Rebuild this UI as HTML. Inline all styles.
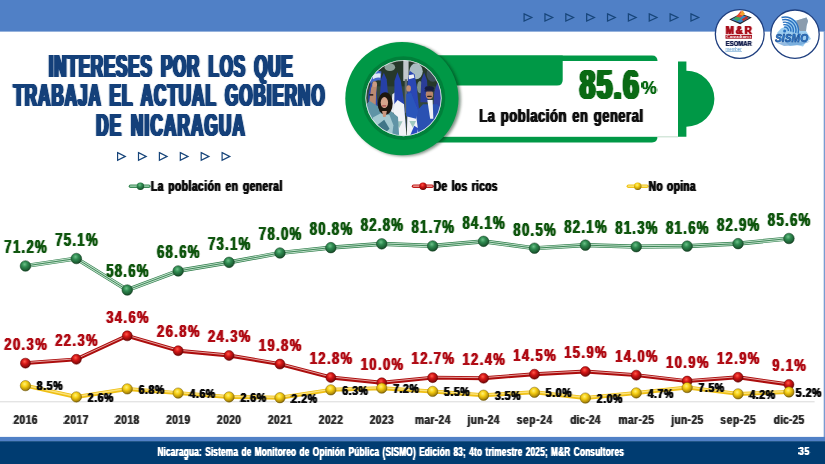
<!DOCTYPE html>
<html lang="es"><head><meta charset="utf-8"><title>Intereses por los que trabaja el actual gobierno de Nicaragua</title>
<style>
html,body{margin:0;padding:0;background:#fff;}
body{width:825px;height:464px;overflow:hidden;font-family:"Liberation Sans",sans-serif;}
svg{display:block;}
text{font-family:"Liberation Sans",sans-serif;font-weight:bold;}
</style></head><body>
<svg width="825" height="464" viewBox="0 0 825 464">
<defs>
<radialGradient id="gG" cx="0.42" cy="0.34" r="0.66"><stop offset="0" stop-color="#6cc088"/><stop offset="0.4" stop-color="#2f8a50"/><stop offset="0.85" stop-color="#1c5c32"/><stop offset="1" stop-color="#12401f"/></radialGradient>
<radialGradient id="gR" cx="0.42" cy="0.34" r="0.66"><stop offset="0" stop-color="#ff5a4a"/><stop offset="0.4" stop-color="#d41616"/><stop offset="0.85" stop-color="#8a0a0a"/><stop offset="1" stop-color="#5e0404"/></radialGradient>
<radialGradient id="gY" cx="0.42" cy="0.34" r="0.66"><stop offset="0" stop-color="#fff27a"/><stop offset="0.4" stop-color="#f6ce12"/><stop offset="0.85" stop-color="#b08a08"/><stop offset="1" stop-color="#6e5604"/></radialGradient>
<linearGradient id="hdrEdge" x1="0" y1="0" x2="0" y2="1"><stop offset="0" stop-color="#5080c6"/><stop offset="1" stop-color="#4a74b4"/></linearGradient>
<clipPath id="photoClip"><circle cx="403.5" cy="98.1" r="37.5"/></clipPath>
<radialGradient id="ringShade" cx="0.5" cy="0.5" r="0.5"><stop offset="0.86" stop-color="#007a38"/><stop offset="1" stop-color="#008a40"/></radialGradient>
<filter id="blur1" x="-20%" y="-20%" width="140%" height="140%"><feGaussianBlur stdDeviation="1.6"/></filter>
<filter id="blurP" x="-5%" y="-5%" width="110%" height="110%"><feGaussianBlur stdDeviation="3.2"/></filter>
<filter id="blur05" x="-20%" y="-20%" width="140%" height="140%"><feGaussianBlur stdDeviation="0.6"/></filter>
<filter id="f0" x="-5%" y="-10%" width="110%" height="120%" color-interpolation-filters="sRGB"><feConvolveMatrix in="SourceAlpha" order="3 1" kernelMatrix="0.3 1 0.3" divisor="1" result="a"/><feFlood flood-color="#ffffff"/><feComposite in2="a" operator="in"/></filter>
<filter id="f1" x="-5%" y="-10%" width="110%" height="120%" color-interpolation-filters="sRGB"><feConvolveMatrix in="SourceAlpha" order="5 1" kernelMatrix="0.20 1 1 1 0.20" divisor="1" result="a"/><feFlood flood-color="#14407a"/><feComposite in2="a" operator="in"/></filter>
<filter id="f2" x="-5%" y="-10%" width="110%" height="120%" color-interpolation-filters="sRGB"><feConvolveMatrix in="SourceAlpha" order="5 1" kernelMatrix="0.50 1 1 1 0.50" divisor="1" result="a"/><feFlood flood-color="#0a6a14"/><feComposite in2="a" operator="in"/></filter>
<filter id="f3" x="-5%" y="-10%" width="110%" height="120%" color-interpolation-filters="sRGB"><feConvolveMatrix in="SourceAlpha" order="3 1" kernelMatrix="0.2 1 0.2" divisor="1" result="a"/><feFlood flood-color="#0a6a14"/><feComposite in2="a" operator="in"/></filter>
<filter id="f4" x="-5%" y="-10%" width="110%" height="120%" color-interpolation-filters="sRGB"><feConvolveMatrix in="SourceAlpha" order="3 1" kernelMatrix="0.5 1 0.5" divisor="1" result="a"/><feFlood flood-color="#111111"/><feComposite in2="a" operator="in"/></filter>
<filter id="f5" x="-5%" y="-10%" width="110%" height="120%" color-interpolation-filters="sRGB"><feConvolveMatrix in="SourceAlpha" order="3 1" kernelMatrix="0.45 1 0.45" divisor="1" result="a"/><feFlood flood-color="#a90f1c"/><feComposite in2="a" operator="in"/></filter>
<filter id="f6" x="-5%" y="-10%" width="110%" height="120%" color-interpolation-filters="sRGB"><feConvolveMatrix in="SourceAlpha" order="3 1" kernelMatrix="0.3 1 0.3" divisor="1" result="a"/><feFlood flood-color="#1a2452"/><feComposite in2="a" operator="in"/></filter>
<filter id="f7" x="-5%" y="-10%" width="110%" height="120%" color-interpolation-filters="sRGB"><feConvolveMatrix in="SourceAlpha" order="3 1" kernelMatrix="0.45 1 0.45" divisor="1" result="a"/><feFlood flood-color="#111111"/><feComposite in2="a" operator="in"/></filter>
<filter id="f8" x="-5%" y="-10%" width="110%" height="120%" color-interpolation-filters="sRGB"><feConvolveMatrix in="SourceAlpha" order="3 1" kernelMatrix="0.3 1 0.3" divisor="1" result="a"/><feFlood flood-color="#333333"/><feComposite in2="a" operator="in"/></filter>
<filter id="f9" x="-5%" y="-10%" width="110%" height="120%" color-interpolation-filters="sRGB"><feConvolveMatrix in="SourceAlpha" order="3 1" kernelMatrix="0.38 1 0.38" divisor="1" result="a"/><feFlood flood-color="#10560f"/><feComposite in2="a" operator="in"/></filter>
<filter id="f10" x="-5%" y="-10%" width="110%" height="120%" color-interpolation-filters="sRGB"><feConvolveMatrix in="SourceAlpha" order="3 1" kernelMatrix="0.38 1 0.38" divisor="1" result="a"/><feFlood flood-color="#b00c15"/><feComposite in2="a" operator="in"/></filter>
<filter id="f11" x="-5%" y="-10%" width="110%" height="120%" color-interpolation-filters="sRGB"><feConvolveMatrix in="SourceAlpha" order="3 1" kernelMatrix="0.4 1 0.4" divisor="1" result="a"/><feFlood flood-color="#0c0c0c"/><feComposite in2="a" operator="in"/></filter>
</defs>

<rect x="0" y="0" width="825" height="31.6" fill="#5080c6"/>
<rect x="823.7" y="31" width="1.3" height="407" fill="#7a9bd0"/>
<path d="M524.10 13.9 L531.80 17.5 L524.10 21.1 Z" fill="none" stroke="#17457a" stroke-width="1.25" stroke-linejoin="miter"/>
<path d="M544.96 13.9 L552.66 17.5 L544.96 21.1 Z" fill="none" stroke="#17457a" stroke-width="1.25" stroke-linejoin="miter"/>
<path d="M565.82 13.9 L573.52 17.5 L565.82 21.1 Z" fill="none" stroke="#17457a" stroke-width="1.25" stroke-linejoin="miter"/>
<path d="M586.68 13.9 L594.38 17.5 L586.68 21.1 Z" fill="none" stroke="#17457a" stroke-width="1.25" stroke-linejoin="miter"/>
<path d="M607.54 13.9 L615.24 17.5 L607.54 21.1 Z" fill="none" stroke="#17457a" stroke-width="1.25" stroke-linejoin="miter"/>
<path d="M628.40 13.9 L636.10 17.5 L628.40 21.1 Z" fill="none" stroke="#17457a" stroke-width="1.25" stroke-linejoin="miter"/>
<path d="M649.26 13.9 L656.96 17.5 L649.26 21.1 Z" fill="none" stroke="#17457a" stroke-width="1.25" stroke-linejoin="miter"/>
<path d="M670.12 13.9 L677.82 17.5 L670.12 21.1 Z" fill="none" stroke="#17457a" stroke-width="1.25" stroke-linejoin="miter"/>
<path d="M690.98 13.9 L698.68 17.5 L690.98 21.1 Z" fill="none" stroke="#17457a" stroke-width="1.25" stroke-linejoin="miter"/>
<rect x="0" y="436.9" width="825" height="4.6" fill="#5080c6"/>
<rect x="0" y="441.2" width="825" height="22.8" fill="#003c71"/>
<g filter="url(#f0)"><text transform="translate(157.40 455.80) scale(0.69 1)" font-size="12.0" fill="#ffffff" letter-spacing="0.257" word-spacing="1.159">Nicaragua: Sistema de Monitoreo de Opinión Pública (SISMO) Edición 83; 4to trimestre 2025; M&amp;R Consultores</text></g>
<g filter="url(#f0)"><text transform="translate(799.10 455.30) scale(0.78 1)" font-size="11.2" fill="#ffffff" letter-spacing="0.619">35</text></g>
<g filter="url(#f1)"><text transform="translate(48.80 76.70) scale(0.53 1)" font-size="32.1" fill="#14407a" letter-spacing="1.565" word-spacing="5.094">INTERESES POR LOS QUE</text></g>
<g filter="url(#f1)"><text transform="translate(13.40 106.30) scale(0.53 1)" font-size="32.1" fill="#14407a" letter-spacing="1.918" word-spacing="5.094">TRABAJA EL ACTUAL GOBIERNO</text></g>
<g filter="url(#f1)"><text transform="translate(96.20 135.90) scale(0.53 1)" font-size="32.1" fill="#14407a" letter-spacing="2.329" word-spacing="5.094">DE NICARAGUA</text></g>
<path d="M117.60 152.6 L125.30 156.4 L117.60 160.2 Z" fill="#fff" stroke="#17457a" stroke-width="1.2"/>
<path d="M138.50 152.6 L146.20 156.4 L138.50 160.2 Z" fill="#fff" stroke="#17457a" stroke-width="1.2"/>
<path d="M159.40 152.6 L167.10 156.4 L159.40 160.2 Z" fill="#fff" stroke="#17457a" stroke-width="1.2"/>
<path d="M180.30 152.6 L188.00 156.4 L180.30 160.2 Z" fill="#fff" stroke="#17457a" stroke-width="1.2"/>
<path d="M201.20 152.6 L208.90 156.4 L201.20 160.2 Z" fill="#fff" stroke="#17457a" stroke-width="1.2"/>
<path d="M222.10 152.6 L229.80 156.4 L222.10 160.2 Z" fill="#fff" stroke="#17457a" stroke-width="1.2"/>
<path d="M400 55.4 H652 Q657.5 55.4 657.5 61 V136.8 Q657.5 142.4 652 142.4 H400 Z" fill="#009846"/>
<rect x="440" y="61" width="238" height="75.8" fill="#fff"/>
<rect x="657.5" y="136.4" width="20.5" height="0.9" fill="#b9d8c4"/>
<path d="M430 55.4 H562.7 V80 Q562.7 85.5 557 85.5 H430 Z" fill="#009846"/>
<path d="M678 61.5 H686.4 V70.7 A28 28 0 0 1 686.4 126.7 V136.8 H678 Z" fill="#009846"/>
<circle cx="404.2" cy="99.6" r="56.6" fill="#00250f" opacity="0.5" filter="url(#blur1)"/>
<circle cx="401.9" cy="98.6" r="56.6" fill="#009846"/>
<circle cx="403.5" cy="98.1" r="41.8" fill="#00803a"/>
<circle cx="403.5" cy="98.1" r="38.1" fill="#dfe9ea"/>
<g clip-path="url(#photoClip)"><g transform="translate(363 58) scale(0.17672)" filter="url(#blurP)">
<rect x="0" y="0" width="464" height="464" fill="#33463a"/><rect x="0" y="0" width="464" height="160" fill="#26382c"/><ellipse cx="300" cy="75" rx="38" ry="45" fill="#a9bcc2"/><ellipse cx="152" cy="52" rx="30" ry="22" fill="#8ea29c"/><ellipse cx="322" cy="165" rx="16" ry="35" fill="#7d928c"/><ellipse cx="395" cy="90" rx="35" ry="45" fill="#3d4f5a"/><rect x="228" y="10" width="30" height="120" fill="#c3c8cc"/><rect x="236" y="120" width="14" height="190" fill="#5f6a6c"/><path d="M36 100 Q70 66 104 76 L100 128 Q70 120 42 146 Z" fill="#4668cc"/><path d="M56 96 Q78 84 100 88 L98 112 Q76 106 56 120 Z" fill="#dfe8f6"/><path d="M30 210 L44 140 L74 150 L84 300 L30 330 Z" fill="#2a47b0"/><path d="M96 210 L102 120 L118 84 L134 120 L142 210 L142 300 L96 300 Z" fill="#2741a6"/><path d="M158 310 L166 205 L184 192 L184 310 Z" fill="#e6eaf1"/><path d="M176 440 L178 130 L195 80 L214 130 L234 260 L244 440 Z" fill="#2743b0"/><path d="M170 440 L176 262 L196 238 L232 262 L246 440 Z" fill="#f1f3f7"/><path d="M186 358 L224 358 L205 396 Z" fill="#9fc8c0"/><path d="M250 440 L252 140 L264 72 L292 92 L304 160 L318 300 L322 440 Z" fill="#2946b4"/><path d="M258 98 L286 92 L291 112 L260 120 Z" fill="#eef1f7"/><path d="M248 440 L252 292 L302 282 L318 330 L324 440 Z" fill="#f1f3f7"/><path d="M262 356 L300 356 L282 394 Z" fill="#9fc8c0"/><path d="M266 440 L290 384 L312 398 L304 440 Z" fill="#2c4cc0"/><path d="M324 250 L330 125 L346 82 L362 125 L370 250 Z" fill="#2a3c98"/><path d="M396 300 L404 190 L420 138 L442 200 L452 300 Z" fill="#3242a4"/><path d="M34 256 L46 170 L60 138 L80 148 L74 200 L72 266 Z" fill="#b98a72"/><ellipse cx="66" cy="148" rx="13" ry="16" fill="#c99a82"/><rect x="36" y="204" width="22" height="9" fill="#2a2020"/><path d="M14 266 L38 244 L86 274 L94 304 L150 294 L198 334 L206 464 L26 464 L26 330 Z" fill="#5f94a6"/><path d="M56 336 L100 312 L150 322 L172 380 L162 464 L66 464 Z" fill="#a4cad2"/><path d="M80 380 L120 350 L150 400 L110 440 Z" fill="#3f7688"/><ellipse cx="126" cy="258" rx="42" ry="64" fill="#1a1310"/><ellipse cx="121" cy="252" rx="21" ry="31" fill="#d7a58c"/><path d="M108 300 L135 300 L128 334 L114 334 Z" fill="#c9977e"/><rect x="108" y="268" width="24" height="6" rx="3" fill="#a8484a"/><path d="M298 306 L340 262 L420 262 L454 300 L464 464 L318 464 L308 380 Z" fill="#2a51b2"/><path d="M244 330 L244 204 L272 196 L312 300 L300 344 Z" fill="#2c55ba"/><ellipse cx="258" cy="172" rx="13" ry="18" fill="#c39074"/><path d="M364 238 L394 238 L398 344 L380 344 Z" fill="#eef1f6"/><ellipse cx="376" cy="206" rx="21" ry="28" fill="#ba866a"/><ellipse cx="376" cy="172" rx="27" ry="14" fill="#191f3e"/><path d="M348 182 L404 182 L402 190 L350 190 Z" fill="#191f3e"/><rect x="363" y="214" width="26" height="7" rx="2" fill="#2e211c"/>
</g></g>
<circle cx="403.5" cy="98.1" r="37.6" fill="none" stroke="#e6f0ee" stroke-width="0.6" opacity="0.8"/>
<g filter="url(#f2)"><text transform="translate(579.70 98.90) scale(0.67 1)" font-size="41.6" fill="#0a6a14" letter-spacing="2.365">85.6</text></g>
<text x="641.80" y="94.10" font-size="18.6" fill="#0a6a14" textLength="15.00" lengthAdjust="spacingAndGlyphs" filter="url(#f3)">%</text>
<g filter="url(#f4)"><text transform="translate(479.30 121.80) scale(0.715 1)" font-size="18.2" fill="#111111" letter-spacing="0.715" word-spacing="1.678">La población en general</text></g>
<circle cx="739.75" cy="34.05" r="24.4" fill="#fff" stroke="#1f3f7f" stroke-width="1.3"/>
<circle cx="795" cy="34.2" r="24.2" fill="#fff" stroke="#1f3f7f" stroke-width="1.3"/>
<path d="M729.2 19.6 L740.8 13.6 L751.8 17.6 L740.2 24.2 Z" fill="#23262e"/>
<path d="M731.2 19.4 L740.8 14.6 L749.6 17.7 L740.2 22.8 Z" fill="#3a86c8"/>
<path d="M733.5 18.6 L737.5 16.6 L741.5 18.6 L737.2 20.9 Z" fill="#3fa75a"/>
<path d="M736 16.8 L741.2 10.6 L743.2 15.4 L740.5 17.6 Z" fill="#e2472b"/>
<path d="M739.6 14.6 L742.6 10.2 L745 14 L742.6 15.8 Z" fill="#f3a22e"/>
<path d="M741.6 19.4 L746.4 16.2 L748.4 18 L743.4 21 Z" fill="#c0302a"/>
<g filter="url(#f5)"><text transform="translate(725.75 34.00) scale(0.86 1)" font-size="11.4" fill="#a90f1c" letter-spacing="2.135">M&amp;R</text></g>
<rect x="725.5" y="34.8" width="26.5" height="3.9" fill="#a90f1c"/>
<text x="726.3" y="38.0" font-size="4.2" fill="#fff" textLength="25" lengthAdjust="spacingAndGlyphs" style="font-family:'Liberation Serif',serif">Consultores</text>
<g filter="url(#f6)"><text transform="translate(725.70 46.40) scale(0.85 1)" font-size="6.9" fill="#1a2452" letter-spacing="0.084">ESOMAR</text></g>
<text x="725.5" y="50.5" font-size="5.2" fill="#4a90c8" textLength="16.2" lengthAdjust="spacingAndGlyphs" style="font-weight:normal">member</text>
<rect x="725.5" y="51.0" width="16.4" height="0.5" fill="#4a90c8"/>
<path d="M777 33 L781 28.5 L784.5 27 L787 22 L791 19.5 L797 20.5 L801.5 19 L806.5 17.5 L808 21 L806.5 26 L806 31 L808.5 35 L811 39 L806 42 L803 46.5 L797 45 L790 46 L786 43 L780 41 L778 37 Z" fill="#9ccdf0"/>
<path d="M796.5 20.5 L801.5 19 L806.5 17.5 L808 21 L806.5 26 L806 31 L800 31 L797 27 Z" fill="#8a9cae"/>
<path d="M784.1 27.2 A3.5 3.5 0 0 1 788.4 31.0" fill="none" stroke="#2a72c0" stroke-width="1.4"/>
<path d="M783.4 24.8 A6 6 0 0 1 790.8 31.7" fill="none" stroke="#2a72c0" stroke-width="1.4"/>
<path d="M782.8 22.4 A8.5 8.5 0 0 1 793.2 32.3" fill="none" stroke="#2a72c0" stroke-width="1.4"/>
<path d="M782.1 19.9 A11 11 0 0 1 795.7 33.0" fill="none" stroke="#2a72c0" stroke-width="1.4"/>
<path d="M781.5 17.5 A13.5 13.5 0 0 1 798.1 33.6" fill="none" stroke="#2a72c0" stroke-width="1.4"/>
<circle cx="784.6" cy="31.0" r="1.5" fill="#2a72c0"/>
<path d="M776 42.6 L810 41.4 L801 45 L784 46 Z" fill="#6fa4d8" opacity="0.75"/>
<text x="774.9" y="41.6" font-size="11.8" fill="#2f80d2" stroke="#163f82" stroke-width="0.55" textLength="33.4" lengthAdjust="spacingAndGlyphs" style="font-style:italic">SISMO</text>
<line x1="130.5" y1="186.3" x2="148.8" y2="186.3" stroke="#3a8a56" stroke-width="3.6" stroke-linecap="round"/>
<line x1="130.5" y1="186.1" x2="148.8" y2="186.1" stroke="#a9d6b8" stroke-width="1.4" stroke-linecap="round"/>
<circle cx="140.4" cy="186.2" r="3.7" fill="url(#gG)"/>
<g filter="url(#f7)"><text transform="translate(150.95 190.60) scale(0.68 1)" font-size="14.9" fill="#111111" letter-spacing="0.830" word-spacing="1.471">La población en general</text></g>
<line x1="413.6" y1="186.3" x2="432" y2="186.3" stroke="#c01818" stroke-width="3.6" stroke-linecap="round"/>
<line x1="413.6" y1="186.1" x2="432" y2="186.1" stroke="#f4b0a8" stroke-width="1.4" stroke-linecap="round"/>
<circle cx="423" cy="186.2" r="3.7" fill="url(#gR)"/>
<g filter="url(#f7)"><text transform="translate(433.75 190.60) scale(0.68 1)" font-size="14.9" fill="#111111" letter-spacing="0.570" word-spacing="1.471">De los ricos</text></g>
<line x1="628.4" y1="186.3" x2="646.9" y2="186.3" stroke="#f0c418" stroke-width="3.6" stroke-linecap="round"/>
<line x1="628.4" y1="186.1" x2="646.9" y2="186.1" stroke="#fbe98c" stroke-width="1.4" stroke-linecap="round"/>
<circle cx="637.7" cy="186.2" r="3.7" fill="url(#gY)"/>
<g filter="url(#f7)"><text transform="translate(648.75 190.60) scale(0.68 1)" font-size="14.9" fill="#111111" letter-spacing="0.517" word-spacing="1.471">No opina</text></g>
<rect x="0" y="401.3" width="814.6" height="1" fill="#d9d9d9"/>
<g filter="url(#f8)"><text transform="translate(13.45 424.00) scale(0.76 1)" font-size="13.4" fill="#333333" letter-spacing="0.590">2016</text></g>
<g filter="url(#f8)"><text transform="translate(64.35 424.00) scale(0.76 1)" font-size="13.4" fill="#333333" letter-spacing="0.590">2017</text></g>
<g filter="url(#f8)"><text transform="translate(115.25 424.00) scale(0.76 1)" font-size="13.4" fill="#333333" letter-spacing="0.590">2018</text></g>
<g filter="url(#f8)"><text transform="translate(166.15 424.00) scale(0.76 1)" font-size="13.4" fill="#333333" letter-spacing="0.590">2019</text></g>
<g filter="url(#f8)"><text transform="translate(217.05 424.00) scale(0.76 1)" font-size="13.4" fill="#333333" letter-spacing="0.590">2020</text></g>
<g filter="url(#f8)"><text transform="translate(267.95 424.00) scale(0.76 1)" font-size="13.4" fill="#333333" letter-spacing="0.590">2021</text></g>
<g filter="url(#f8)"><text transform="translate(318.85 424.00) scale(0.76 1)" font-size="13.4" fill="#333333" letter-spacing="0.590">2022</text></g>
<g filter="url(#f8)"><text transform="translate(369.75 424.00) scale(0.76 1)" font-size="13.4" fill="#333333" letter-spacing="0.590">2023</text></g>
<g filter="url(#f8)"><text transform="translate(414.95 424.00) scale(0.76 1)" font-size="13.4" fill="#333333" letter-spacing="0.526">mar-24</text></g>
<g filter="url(#f8)"><text transform="translate(467.60 424.00) scale(0.76 1)" font-size="13.4" fill="#333333" letter-spacing="0.503">jun-24</text></g>
<g filter="url(#f8)"><text transform="translate(516.75 424.00) scale(0.76 1)" font-size="13.4" fill="#333333" letter-spacing="0.824">sep-24</text></g>
<g filter="url(#f8)"><text transform="translate(570.15 424.00) scale(0.76 1)" font-size="13.4" fill="#333333" letter-spacing="0.255">dic-24</text></g>
<g filter="url(#f8)"><text transform="translate(618.55 424.00) scale(0.76 1)" font-size="13.4" fill="#333333" letter-spacing="0.526">mar-25</text></g>
<g filter="url(#f8)"><text transform="translate(671.20 424.00) scale(0.76 1)" font-size="13.4" fill="#333333" letter-spacing="0.503">jun-25</text></g>
<g filter="url(#f8)"><text transform="translate(720.35 424.00) scale(0.76 1)" font-size="13.4" fill="#333333" letter-spacing="0.824">sep-25</text></g>
<g filter="url(#f8)"><text transform="translate(773.75 424.00) scale(0.76 1)" font-size="13.4" fill="#333333" letter-spacing="0.255">dic-25</text></g>
<polyline points="25.45,265.98 76.35,258.53 127.25,290.03 178.15,270.94 229.05,262.35 279.95,253.00 330.85,247.65 381.75,243.83 432.65,245.93 483.55,241.35 534.45,248.23 585.35,245.17 636.25,246.70 687.15,246.13 738.05,243.64 788.95,238.49" fill="none" stroke="#2f7d4a" stroke-width="4.2" stroke-linejoin="round"/>
<polyline points="25.45,265.98 76.35,258.53 127.25,290.03 178.15,270.94 229.05,262.35 279.95,253.00 330.85,247.65 381.75,243.83 432.65,245.93 483.55,241.35 534.45,248.23 585.35,245.17 636.25,246.70 687.15,246.13 738.05,243.64 788.95,238.49" fill="none" stroke="#c4e3ce" stroke-width="2.9" stroke-linejoin="round"/>
<polyline points="25.45,265.98 76.35,258.53 127.25,290.03 178.15,270.94 229.05,262.35 279.95,253.00 330.85,247.65 381.75,243.83 432.65,245.93 483.55,241.35 534.45,248.23 585.35,245.17 636.25,246.70 687.15,246.13 738.05,243.64 788.95,238.49" fill="none" stroke="#2f7d4a" stroke-width="0.9" stroke-linejoin="round"/>
<circle cx="25.45" cy="265.98" r="5.3" fill="url(#gG)" stroke="#123f20" stroke-width="0.5"/>
<circle cx="76.35" cy="258.53" r="5.3" fill="url(#gG)" stroke="#123f20" stroke-width="0.5"/>
<circle cx="127.25" cy="290.03" r="5.3" fill="url(#gG)" stroke="#123f20" stroke-width="0.5"/>
<circle cx="178.15" cy="270.94" r="5.3" fill="url(#gG)" stroke="#123f20" stroke-width="0.5"/>
<circle cx="229.05" cy="262.35" r="5.3" fill="url(#gG)" stroke="#123f20" stroke-width="0.5"/>
<circle cx="279.95" cy="253.00" r="5.3" fill="url(#gG)" stroke="#123f20" stroke-width="0.5"/>
<circle cx="330.85" cy="247.65" r="5.3" fill="url(#gG)" stroke="#123f20" stroke-width="0.5"/>
<circle cx="381.75" cy="243.83" r="5.3" fill="url(#gG)" stroke="#123f20" stroke-width="0.5"/>
<circle cx="432.65" cy="245.93" r="5.3" fill="url(#gG)" stroke="#123f20" stroke-width="0.5"/>
<circle cx="483.55" cy="241.35" r="5.3" fill="url(#gG)" stroke="#123f20" stroke-width="0.5"/>
<circle cx="534.45" cy="248.23" r="5.3" fill="url(#gG)" stroke="#123f20" stroke-width="0.5"/>
<circle cx="585.35" cy="245.17" r="5.3" fill="url(#gG)" stroke="#123f20" stroke-width="0.5"/>
<circle cx="636.25" cy="246.70" r="5.3" fill="url(#gG)" stroke="#123f20" stroke-width="0.5"/>
<circle cx="687.15" cy="246.13" r="5.3" fill="url(#gG)" stroke="#123f20" stroke-width="0.5"/>
<circle cx="738.05" cy="243.64" r="5.3" fill="url(#gG)" stroke="#123f20" stroke-width="0.5"/>
<circle cx="788.95" cy="238.49" r="5.3" fill="url(#gG)" stroke="#123f20" stroke-width="0.5"/>
<polyline points="25.45,363.15 76.35,359.33 127.25,335.85 178.15,350.74 229.05,355.51 279.95,364.10 330.85,377.46 381.75,382.81 432.65,377.66 483.55,378.23 534.45,374.22 585.35,371.55 636.25,375.17 687.15,381.09 738.05,377.27 788.95,384.53" fill="none" stroke="#ac0d0d" stroke-width="3.9" stroke-linejoin="round"/>
<polyline points="25.45,363.15 76.35,359.33 127.25,335.85 178.15,350.74 229.05,355.51 279.95,364.10 330.85,377.46 381.75,382.81 432.65,377.66 483.55,378.23 534.45,374.22 585.35,371.55 636.25,375.17 687.15,381.09 738.05,377.27 788.95,384.53" fill="none" stroke="#fde9e4" stroke-width="0.8" stroke-linejoin="round" opacity="0.85" transform="translate(0,-0.55)"/>
<circle cx="25.45" cy="363.15" r="5.0" fill="url(#gR)" stroke="#6a0505" stroke-width="0.5"/>
<circle cx="76.35" cy="359.33" r="5.0" fill="url(#gR)" stroke="#6a0505" stroke-width="0.5"/>
<circle cx="127.25" cy="335.85" r="5.0" fill="url(#gR)" stroke="#6a0505" stroke-width="0.5"/>
<circle cx="178.15" cy="350.74" r="5.0" fill="url(#gR)" stroke="#6a0505" stroke-width="0.5"/>
<circle cx="229.05" cy="355.51" r="5.0" fill="url(#gR)" stroke="#6a0505" stroke-width="0.5"/>
<circle cx="279.95" cy="364.10" r="5.0" fill="url(#gR)" stroke="#6a0505" stroke-width="0.5"/>
<circle cx="330.85" cy="377.46" r="5.0" fill="url(#gR)" stroke="#6a0505" stroke-width="0.5"/>
<circle cx="381.75" cy="382.81" r="5.0" fill="url(#gR)" stroke="#6a0505" stroke-width="0.5"/>
<circle cx="432.65" cy="377.66" r="5.0" fill="url(#gR)" stroke="#6a0505" stroke-width="0.5"/>
<circle cx="483.55" cy="378.23" r="5.0" fill="url(#gR)" stroke="#6a0505" stroke-width="0.5"/>
<circle cx="534.45" cy="374.22" r="5.0" fill="url(#gR)" stroke="#6a0505" stroke-width="0.5"/>
<circle cx="585.35" cy="371.55" r="5.0" fill="url(#gR)" stroke="#6a0505" stroke-width="0.5"/>
<circle cx="636.25" cy="375.17" r="5.0" fill="url(#gR)" stroke="#6a0505" stroke-width="0.5"/>
<circle cx="687.15" cy="381.09" r="5.0" fill="url(#gR)" stroke="#6a0505" stroke-width="0.5"/>
<circle cx="738.05" cy="377.27" r="5.0" fill="url(#gR)" stroke="#6a0505" stroke-width="0.5"/>
<circle cx="788.95" cy="384.53" r="5.0" fill="url(#gR)" stroke="#6a0505" stroke-width="0.5"/>
<polyline points="25.45,385.67 76.35,396.94 127.25,388.92 178.15,393.12 229.05,396.94 279.95,397.70 330.85,389.87 381.75,388.16 432.65,391.40 483.55,395.22 534.45,392.35 585.35,398.08 636.25,392.93 687.15,387.58 738.05,393.88 788.95,391.97" fill="none" stroke="#efbf14" stroke-width="4" stroke-linejoin="round"/>
<polyline points="25.45,385.67 76.35,396.94 127.25,388.92 178.15,393.12 229.05,396.94 279.95,397.70 330.85,389.87 381.75,388.16 432.65,391.40 483.55,395.22 534.45,392.35 585.35,398.08 636.25,392.93 687.15,387.58 738.05,393.88 788.95,391.97" fill="none" stroke="#fbe27a" stroke-width="1.5" stroke-linejoin="round" transform="translate(0,-0.5)"/>
<circle cx="25.45" cy="385.67" r="5.2" fill="url(#gY)" stroke="#7a6005" stroke-width="0.5"/>
<circle cx="76.35" cy="396.94" r="5.2" fill="url(#gY)" stroke="#7a6005" stroke-width="0.5"/>
<circle cx="127.25" cy="388.92" r="5.2" fill="url(#gY)" stroke="#7a6005" stroke-width="0.5"/>
<circle cx="178.15" cy="393.12" r="5.2" fill="url(#gY)" stroke="#7a6005" stroke-width="0.5"/>
<circle cx="229.05" cy="396.94" r="5.2" fill="url(#gY)" stroke="#7a6005" stroke-width="0.5"/>
<circle cx="279.95" cy="397.70" r="5.2" fill="url(#gY)" stroke="#7a6005" stroke-width="0.5"/>
<circle cx="330.85" cy="389.87" r="5.2" fill="url(#gY)" stroke="#7a6005" stroke-width="0.5"/>
<circle cx="381.75" cy="388.16" r="5.2" fill="url(#gY)" stroke="#7a6005" stroke-width="0.5"/>
<circle cx="432.65" cy="391.40" r="5.2" fill="url(#gY)" stroke="#7a6005" stroke-width="0.5"/>
<circle cx="483.55" cy="395.22" r="5.2" fill="url(#gY)" stroke="#7a6005" stroke-width="0.5"/>
<circle cx="534.45" cy="392.35" r="5.2" fill="url(#gY)" stroke="#7a6005" stroke-width="0.5"/>
<circle cx="585.35" cy="398.08" r="5.2" fill="url(#gY)" stroke="#7a6005" stroke-width="0.5"/>
<circle cx="636.25" cy="392.93" r="5.2" fill="url(#gY)" stroke="#7a6005" stroke-width="0.5"/>
<circle cx="687.15" cy="387.58" r="5.2" fill="url(#gY)" stroke="#7a6005" stroke-width="0.5"/>
<circle cx="738.05" cy="393.88" r="5.2" fill="url(#gY)" stroke="#7a6005" stroke-width="0.5"/>
<circle cx="788.95" cy="391.97" r="5.2" fill="url(#gY)" stroke="#7a6005" stroke-width="0.5"/>
<g filter="url(#f9)"><text transform="translate(4.33 253.38) scale(0.745 1)" font-size="17.7" fill="#10560f" letter-spacing="1.695">71.2%</text></g>
<g filter="url(#f9)"><text transform="translate(55.23 245.93) scale(0.745 1)" font-size="17.7" fill="#10560f" letter-spacing="1.695">75.1%</text></g>
<g filter="url(#f9)"><text transform="translate(106.13 277.43) scale(0.745 1)" font-size="17.7" fill="#10560f" letter-spacing="1.695">58.6%</text></g>
<g filter="url(#f9)"><text transform="translate(157.03 258.34) scale(0.745 1)" font-size="17.7" fill="#10560f" letter-spacing="1.695">68.6%</text></g>
<g filter="url(#f9)"><text transform="translate(207.93 249.75) scale(0.745 1)" font-size="17.7" fill="#10560f" letter-spacing="1.695">73.1%</text></g>
<g filter="url(#f9)"><text transform="translate(258.83 240.40) scale(0.745 1)" font-size="17.7" fill="#10560f" letter-spacing="1.695">78.0%</text></g>
<g filter="url(#f9)"><text transform="translate(309.73 235.05) scale(0.745 1)" font-size="17.7" fill="#10560f" letter-spacing="1.695">80.8%</text></g>
<g filter="url(#f9)"><text transform="translate(360.63 231.23) scale(0.745 1)" font-size="17.7" fill="#10560f" letter-spacing="1.695">82.8%</text></g>
<g filter="url(#f9)"><text transform="translate(411.53 233.33) scale(0.745 1)" font-size="17.7" fill="#10560f" letter-spacing="1.695">81.7%</text></g>
<g filter="url(#f9)"><text transform="translate(462.43 228.75) scale(0.745 1)" font-size="17.7" fill="#10560f" letter-spacing="1.695">84.1%</text></g>
<g filter="url(#f9)"><text transform="translate(513.33 235.63) scale(0.745 1)" font-size="17.7" fill="#10560f" letter-spacing="1.695">80.5%</text></g>
<g filter="url(#f9)"><text transform="translate(564.23 232.57) scale(0.745 1)" font-size="17.7" fill="#10560f" letter-spacing="1.695">82.1%</text></g>
<g filter="url(#f9)"><text transform="translate(615.13 234.10) scale(0.745 1)" font-size="17.7" fill="#10560f" letter-spacing="1.695">81.3%</text></g>
<g filter="url(#f9)"><text transform="translate(666.03 233.53) scale(0.745 1)" font-size="17.7" fill="#10560f" letter-spacing="1.695">81.6%</text></g>
<g filter="url(#f9)"><text transform="translate(716.93 231.04) scale(0.745 1)" font-size="17.7" fill="#10560f" letter-spacing="1.695">82.9%</text></g>
<g filter="url(#f9)"><text transform="translate(767.83 225.89) scale(0.745 1)" font-size="17.7" fill="#10560f" letter-spacing="1.695">85.6%</text></g>
<g filter="url(#f10)"><text transform="translate(4.33 349.85) scale(0.745 1)" font-size="17.4" fill="#b00c15" letter-spacing="1.907">20.3%</text></g>
<g filter="url(#f10)"><text transform="translate(55.23 346.03) scale(0.745 1)" font-size="17.4" fill="#b00c15" letter-spacing="1.907">22.3%</text></g>
<g filter="url(#f10)"><text transform="translate(106.13 322.55) scale(0.745 1)" font-size="17.4" fill="#b00c15" letter-spacing="1.907">34.6%</text></g>
<g filter="url(#f10)"><text transform="translate(157.03 337.44) scale(0.745 1)" font-size="17.4" fill="#b00c15" letter-spacing="1.907">26.8%</text></g>
<g filter="url(#f10)"><text transform="translate(207.93 342.21) scale(0.745 1)" font-size="17.4" fill="#b00c15" letter-spacing="1.907">24.3%</text></g>
<g filter="url(#f10)"><text transform="translate(258.83 350.80) scale(0.745 1)" font-size="17.4" fill="#b00c15" letter-spacing="1.907">19.8%</text></g>
<g filter="url(#f10)"><text transform="translate(309.73 364.16) scale(0.745 1)" font-size="17.4" fill="#b00c15" letter-spacing="1.907">12.8%</text></g>
<g filter="url(#f10)"><text transform="translate(360.63 369.51) scale(0.745 1)" font-size="17.4" fill="#b00c15" letter-spacing="1.907">10.0%</text></g>
<g filter="url(#f10)"><text transform="translate(411.53 364.36) scale(0.745 1)" font-size="17.4" fill="#b00c15" letter-spacing="1.907">12.7%</text></g>
<g filter="url(#f10)"><text transform="translate(462.43 364.93) scale(0.745 1)" font-size="17.4" fill="#b00c15" letter-spacing="1.907">12.4%</text></g>
<g filter="url(#f10)"><text transform="translate(513.33 360.92) scale(0.745 1)" font-size="17.4" fill="#b00c15" letter-spacing="1.907">14.5%</text></g>
<g filter="url(#f10)"><text transform="translate(564.23 358.25) scale(0.745 1)" font-size="17.4" fill="#b00c15" letter-spacing="1.907">15.9%</text></g>
<g filter="url(#f10)"><text transform="translate(615.13 361.87) scale(0.745 1)" font-size="17.4" fill="#b00c15" letter-spacing="1.907">14.0%</text></g>
<g filter="url(#f10)"><text transform="translate(666.03 367.79) scale(0.745 1)" font-size="17.4" fill="#b00c15" letter-spacing="1.907">10.9%</text></g>
<g filter="url(#f10)"><text transform="translate(716.93 363.97) scale(0.745 1)" font-size="17.4" fill="#b00c15" letter-spacing="1.907">12.9%</text></g>
<g filter="url(#f10)"><text transform="translate(772.28 371.23) scale(0.745 1)" font-size="17.4" fill="#b00c15" letter-spacing="1.787">9.1%</text></g>
<g filter="url(#f11)"><text transform="translate(36.85 390.47) scale(0.8 1)" font-size="13.1" fill="#0c0c0c" letter-spacing="0.714">8.5%</text></g>
<g filter="url(#f11)"><text transform="translate(87.75 401.74) scale(0.8 1)" font-size="13.1" fill="#0c0c0c" letter-spacing="0.714">2.6%</text></g>
<g filter="url(#f11)"><text transform="translate(138.65 393.72) scale(0.8 1)" font-size="13.1" fill="#0c0c0c" letter-spacing="0.714">6.8%</text></g>
<g filter="url(#f11)"><text transform="translate(189.55 397.92) scale(0.8 1)" font-size="13.1" fill="#0c0c0c" letter-spacing="0.714">4.6%</text></g>
<g filter="url(#f11)"><text transform="translate(240.45 401.74) scale(0.8 1)" font-size="13.1" fill="#0c0c0c" letter-spacing="0.714">2.6%</text></g>
<g filter="url(#f11)"><text transform="translate(291.35 402.50) scale(0.8 1)" font-size="13.1" fill="#0c0c0c" letter-spacing="0.714">2.2%</text></g>
<g filter="url(#f11)"><text transform="translate(342.25 394.67) scale(0.8 1)" font-size="13.1" fill="#0c0c0c" letter-spacing="0.714">6.3%</text></g>
<g filter="url(#f11)"><text transform="translate(393.15 392.96) scale(0.8 1)" font-size="13.1" fill="#0c0c0c" letter-spacing="0.714">7.2%</text></g>
<g filter="url(#f11)"><text transform="translate(444.05 396.20) scale(0.8 1)" font-size="13.1" fill="#0c0c0c" letter-spacing="0.714">5.5%</text></g>
<g filter="url(#f11)"><text transform="translate(494.95 400.02) scale(0.8 1)" font-size="13.1" fill="#0c0c0c" letter-spacing="0.714">3.5%</text></g>
<g filter="url(#f11)"><text transform="translate(545.85 397.15) scale(0.8 1)" font-size="13.1" fill="#0c0c0c" letter-spacing="0.714">5.0%</text></g>
<g filter="url(#f11)"><text transform="translate(596.75 402.88) scale(0.8 1)" font-size="13.1" fill="#0c0c0c" letter-spacing="0.714">2.0%</text></g>
<g filter="url(#f11)"><text transform="translate(647.65 397.73) scale(0.8 1)" font-size="13.1" fill="#0c0c0c" letter-spacing="0.714">4.7%</text></g>
<g filter="url(#f11)"><text transform="translate(698.55 392.38) scale(0.8 1)" font-size="13.1" fill="#0c0c0c" letter-spacing="0.714">7.5%</text></g>
<g filter="url(#f11)"><text transform="translate(749.45 398.68) scale(0.8 1)" font-size="13.1" fill="#0c0c0c" letter-spacing="0.714">4.2%</text></g>
<g filter="url(#f11)"><text transform="translate(795.80 396.77) scale(0.8 1)" font-size="13.1" fill="#0c0c0c" letter-spacing="0.714">5.2%</text></g>
</svg></body></html>
